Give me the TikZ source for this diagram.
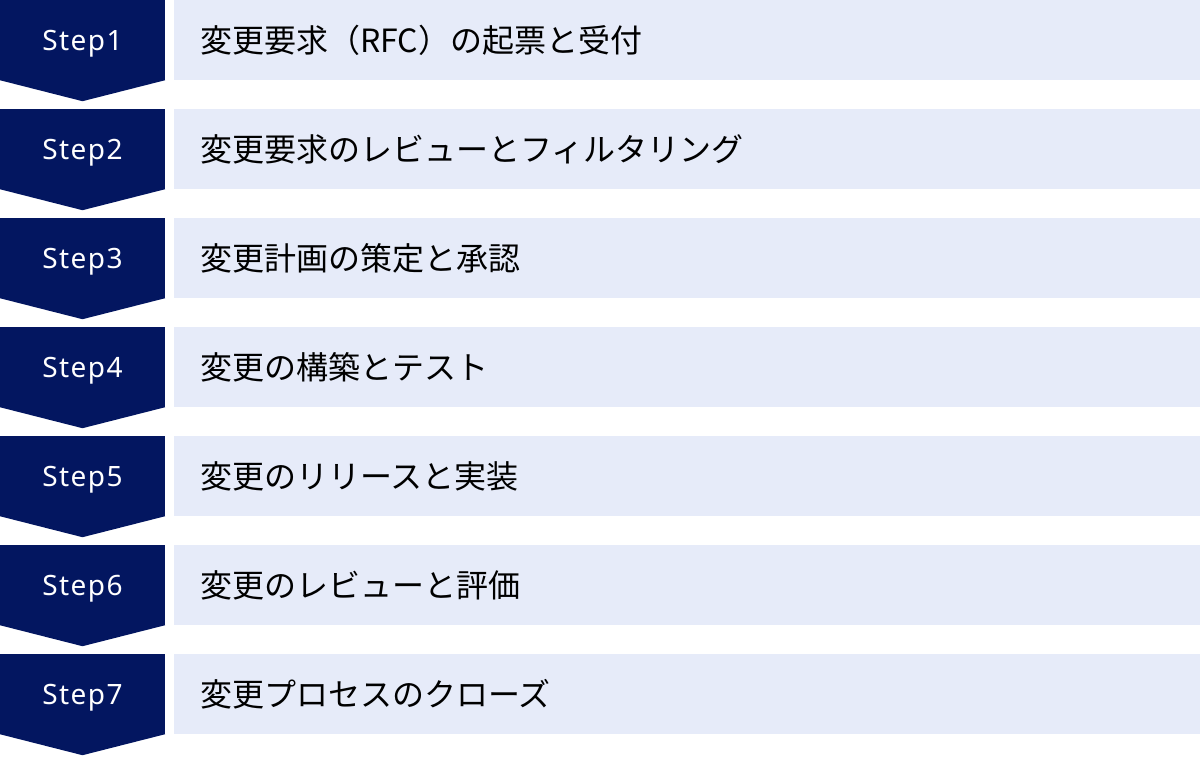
\documentclass[tikz,border=0pt]{standalone}
\usepackage{fontspec}
\newfontfamily\cjk{Noto Sans CJK JP}
\newfontfamily\stepfont[LetterSpace=5]{Noto Sans}
\definecolor{stepnavy}{RGB}{3,22,96}
\definecolor{rowblue}{RGB}{230,235,249}
\tikzset{
  stepbox/.style={fill=stepnavy, minimum width=165pt, minimum height=80pt, inner sep=0pt,
    text depth=0pt, text=white, font=\stepfont\fontsize{28}{28}\selectfont},
  rowbox/.style={fill=rowblue, anchor=west, minimum height=80pt, text width=974pt,
    inner xsep=26pt, inner ysep=0pt, align=left, font=\cjk\fontsize{32}{32}\selectfont},
}
\newcommand{\stepdown}[1]{\fill[stepnavy] (#1.south west) -- (#1.south east) -- ([yshift=-21pt]#1.south) -- cycle;}
\begin{document}
\begin{tikzpicture}[x=1pt,y=-1pt]
\useasboundingbox (0,0) rectangle (1200,756);

\node (s1)[stepbox] at (82.5,40) {Step1};
\node (s2)[stepbox] at (82.5,149) {Step2};
\node (s3)[stepbox] at (82.5,258) {Step3};
\node (s4)[stepbox] at (82.5,367) {Step4};
\node (s5)[stepbox] at (82.5,476) {Step5};
\node (s6)[stepbox] at (82.5,585) {Step6};
\node (s7)[stepbox] at (82.5,694) {Step7};

\stepdown{s1} \stepdown{s2} \stepdown{s3} \stepdown{s4}
\stepdown{s5} \stepdown{s6} \stepdown{s7}

\node (t1)[rowbox] at (174,40) {変更要求（RFC）の起票と受付};
\node (t2)[rowbox] at (174,149) {変更要求のレビューとフィルタリング};
\node (t3)[rowbox] at (174,258) {変更計画の策定と承認};
\node (t4)[rowbox] at (174,367) {変更の構築とテスト};
\node (t5)[rowbox] at (174,476) {変更のリリースと実装};
\node (t6)[rowbox] at (174,585) {変更のレビューと評価};
\node (t7)[rowbox] at (174,694) {変更プロセスのクローズ};

\end{tikzpicture}
\end{document}
